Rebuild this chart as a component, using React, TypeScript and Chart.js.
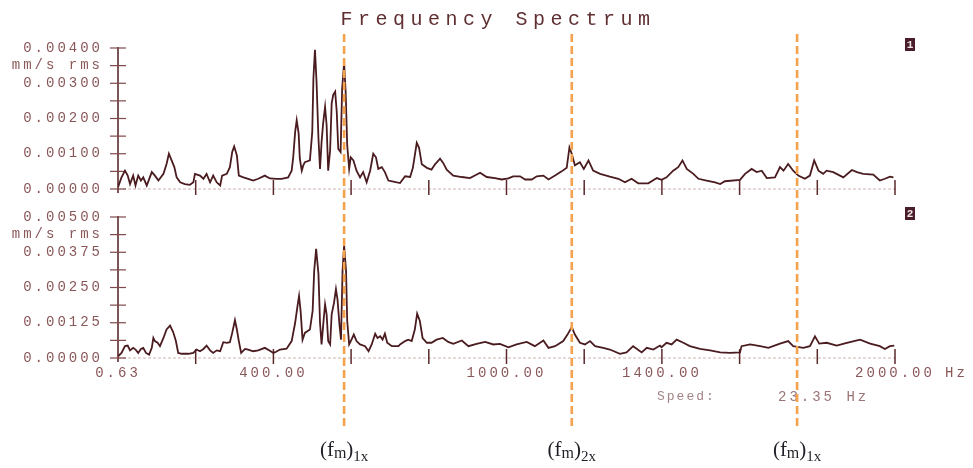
import React, { useEffect, useRef } from "react";
import { Chart, registerables } from "chart.js";

Chart.register(...registerables);

// ---------- data ----------
const titleText = "Frequency Spectrum";

// panel 1 spectrum: [frequency Hz, amplitude mm/s rms]
const spectrum1: [number, number][] = [
  [0, 0.00005], [9, 0.00033], [18, 0.00052], [25, 0.00038], [31, 0.00014], [39, 0.00038],
  [45, 0.0001], [52, 0.00038], [59, 0.00024], [65, 0.00033], [74, 0.0001], [87, 0.00048],
  [95, 0.00038], [104, 0.00024], [117, 0.00043], [125, 0.00071], [131, 0.001], [138, 0.00081],
  [145, 0.00062], [151, 0.00033], [160, 0.00019], [172, 0.00014], [185, 0.00012], [194, 0.00019],
  [198, 0.00043], [211, 0.00038], [220, 0.00029], [228, 0.00043], [237, 0.00019], [245, 0.00038],
  [254, 0.00019], [263, 0.0001], [268, 0.00038], [280, 0.00043], [288, 0.00062], [294, 0.00105],
  [299, 0.00121], [306, 0.00095], [311, 0.00038], [323, 0.00033], [335, 0.00029], [348, 0.00024],
  [361, 0.00029], [378, 0.00038], [391, 0.0003], [408, 0.00029], [421, 0.00029], [438, 0.00033],
  [447, 0.00052], [451, 0.0009], [456, 0.00162], [460, 0.00195], [465, 0.00157], [468, 0.00086],
  [473, 0.00052], [477, 0.00067], [481, 0.00076], [494, 0.00081], [500, 0.00162], [503, 0.00314],
  [507, 0.00395], [511, 0.00305], [516, 0.00143], [520, 0.00057], [524, 0.00133], [528, 0.00186],
  [533, 0.00233], [537, 0.00181], [541, 0.00052], [546, 0.0011], [550, 0.00243], [554, 0.00267],
  [559, 0.00276], [563, 0.00219], [567, 0.00114], [573, 0.00105], [577, 0.00286], [582, 0.00357],
  [586, 0.00276], [590, 0.00124], [595, 0.00057], [599, 0.0009], [606, 0.00081], [614, 0.00052],
  [623, 0.00033], [631, 0.00048], [640, 0.00019], [649, 0.00052], [657, 0.001], [664, 0.0009],
  [670, 0.00057], [679, 0.00062], [687, 0.00048], [696, 0.00024], [709, 0.00021], [726, 0.00017],
  [739, 0.00036], [752, 0.00034], [759, 0.0006], [769, 0.00131], [775, 0.00117], [782, 0.0007],
  [795, 0.0006], [807, 0.00055], [816, 0.0007], [829, 0.00086], [837, 0.00074], [846, 0.00055],
  [863, 0.00038], [885, 0.00034], [906, 0.00031], [932, 0.00046], [949, 0.00034], [970, 0.00031],
  [988, 0.00027], [1005, 0.0003], [1017, 0.00036], [1035, 0.00036], [1048, 0.00027], [1065, 0.00027],
  [1078, 0.00036], [1095, 0.00038], [1108, 0.00027], [1125, 0.00038], [1142, 0.0005], [1155, 0.0006],
  [1162, 0.00118], [1168, 0.001], [1176, 0.00067], [1189, 0.00076], [1199, 0.00057], [1211, 0.00081],
  [1223, 0.00052], [1241, 0.00043], [1266, 0.00035], [1288, 0.00029], [1305, 0.00019], [1322, 0.00029],
  [1339, 0.00016], [1365, 0.00016], [1387, 0.00031], [1399, 0.00026], [1412, 0.00033], [1429, 0.00052],
  [1442, 0.00062], [1453, 0.00081], [1464, 0.00057], [1481, 0.00043], [1494, 0.00029], [1515, 0.00024],
  [1537, 0.00019], [1550, 0.00014], [1562, 0.00022], [1601, 0.00026], [1614, 0.00043], [1631, 0.00057],
  [1644, 0.00048], [1657, 0.00052], [1670, 0.00031], [1691, 0.00033], [1704, 0.00062], [1713, 0.00052],
  [1725, 0.00071], [1738, 0.00052], [1751, 0.00038], [1768, 0.00029], [1781, 0.00038], [1792, 0.00081],
  [1803, 0.00052], [1815, 0.00043], [1824, 0.00052], [1841, 0.00048], [1867, 0.00033], [1889, 0.00054],
  [1902, 0.00048], [1918, 0.00043], [1944, 0.00041], [1961, 0.00024], [1974, 0.00029], [1987, 0.00035],
  [1996, 0.00033],
];

// panel 2 spectrum: [frequency Hz, amplitude mm/s rms]
const spectrum2: [number, number][] = [
  [0, 0.00006], [9, 0.00018], [18, 0.00042], [25, 0.00044], [31, 0.00027], [39, 0.00036],
  [45, 0.0003], [52, 0.00018], [59, 0.00032], [65, 0.00036], [72, 0.00018], [80, 0.00012],
  [87, 0.00036], [91, 0.00071], [95, 0.0006], [102, 0.00054], [108, 0.00042], [117, 0.00071],
  [125, 0.00101], [134, 0.00115], [142, 0.00092], [149, 0.0006], [155, 0.00018], [164, 0.00015],
  [181, 0.00015], [194, 0.00018], [202, 0.0003], [211, 0.00024], [220, 0.00032], [228, 0.00044],
  [237, 0.00027], [245, 0.00018], [254, 0.00027], [263, 0.00024], [271, 0.00056], [280, 0.00054],
  [288, 0.00056], [294, 0.00089], [301, 0.00134], [306, 0.00101], [311, 0.0006], [317, 0.00018],
  [327, 0.00032], [335, 0.0003], [348, 0.00024], [361, 0.00027], [378, 0.00036], [391, 0.00026],
  [400, 0.00018], [407, 0.00022], [417, 0.0003], [434, 0.00033], [447, 0.0006], [456, 0.00125],
  [462, 0.00184], [466, 0.0022], [470, 0.00167], [475, 0.00065], [481, 0.00089], [494, 0.00101],
  [501, 0.00167], [505, 0.00309], [510, 0.00387], [516, 0.00298], [520, 0.00125], [524, 0.00048],
  [529, 0.00131], [533, 0.0019], [537, 0.00155], [541, 0.0006], [546, 0.00048], [550, 0.00155],
  [556, 0.00196], [561, 0.00244], [565, 0.00208], [570, 0.00119], [574, 0.00065], [578, 0.00309],
  [582, 0.00399], [587, 0.00309], [590, 0.00131], [595, 0.00048], [601, 0.00065], [607, 0.00083],
  [614, 0.0006], [623, 0.00048], [636, 0.00042], [645, 0.00024], [653, 0.00048], [662, 0.00086],
  [668, 0.00071], [675, 0.00077], [681, 0.00065], [687, 0.00086], [693, 0.00054], [705, 0.00042],
  [722, 0.00042], [726, 0.00048], [739, 0.0006], [747, 0.00065], [756, 0.0006], [764, 0.00101],
  [770, 0.00157], [777, 0.00131], [784, 0.00071], [795, 0.00054], [807, 0.00054], [820, 0.00065],
  [836, 0.00071], [850, 0.00057], [863, 0.0005], [885, 0.00062], [902, 0.00042], [923, 0.0005],
  [945, 0.00057], [966, 0.00048], [983, 0.0005], [1005, 0.00038], [1026, 0.00048], [1052, 0.00057],
  [1073, 0.00042], [1095, 0.00062], [1108, 0.00036], [1125, 0.00042], [1146, 0.0006], [1157, 0.00083],
  [1168, 0.0011], [1176, 0.00083], [1189, 0.00054], [1202, 0.00048], [1215, 0.0006], [1228, 0.00042],
  [1249, 0.00036], [1266, 0.0003], [1292, 0.00015], [1309, 0.0002], [1326, 0.00042], [1348, 0.0002],
  [1361, 0.00036], [1378, 0.0003], [1395, 0.00044], [1399, 0.00038], [1412, 0.00054], [1425, 0.00048],
  [1438, 0.00065], [1455, 0.00054], [1472, 0.00042], [1498, 0.00032], [1524, 0.00027], [1550, 0.0002],
  [1575, 0.00018], [1601, 0.0002], [1605, 0.00042], [1627, 0.00048], [1653, 0.00042], [1674, 0.00036],
  [1704, 0.00051], [1725, 0.0006], [1738, 0.00042], [1764, 0.00036], [1781, 0.00042], [1794, 0.00077],
  [1805, 0.00051], [1824, 0.00054], [1850, 0.00044], [1876, 0.00054], [1910, 0.00065], [1936, 0.00051],
  [1961, 0.00042], [1974, 0.00032], [1987, 0.00042], [1998, 0.00044],
];

const xTickValues = [0, 200, 400, 600, 800, 1000, 1200, 1400, 1600, 1800, 2000];
const xTickLabels = ["0.63", "", "400.00", "", "", "1000.00", "", "1400.00", "", "", "2000.00"];
const xUnit = "Hz";

const yTicks1 = [0, 0.0005, 0.001, 0.0015, 0.002, 0.0025, 0.003, 0.0035, 0.004];
const yLabels1 = ["0.00000", "", "0.00100", "", "0.00200", "", "0.00300", "mm/s rms", "0.00400"];
const yTicks2 = [0, 0.000625, 0.00125, 0.001875, 0.0025, 0.003125, 0.00375, 0.004375, 0.005];
const yLabels2 = ["0.00000", "", "0.00125", "", "0.00250", "", "0.00375", "mm/s rms", "0.00500"];

const markerFreqs = [582, 1168, 1748];
const markerSubs = ["1x", "2x", "1x"];
const panelIds = ["1", "2"];
const speedLabel = "Speed:";
const speedValue = "23.35 Hz";

// ---------- styles ----------
const MONO = '"Liberation Mono", "DejaVu Sans Mono", monospace';
const SERIF = '"Liberation Serif", "DejaVu Serif", serif';
const INK = "#4a1b1f";
const AXIS = "#5b2a2c";
const TICK = "#80494b";
const LABEL = "#8a5759";
const BASE = "#d2b3b4";
const ORANGE = "#f4a24c";

function panelPlugin(id: string) {
  return {
    id: "panelDeco" + id,
    beforeDraw(chart: any) {
      chart.ctx.letterSpacing = "3px";
    },
    beforeDatasetsDraw(chart: any) {
      const { ctx, chartArea: a } = chart;
      const x = chart.scales.x;
      const y = chart.scales.y;
      ctx.save();
      ctx.letterSpacing = "0px";
      // dotted baseline
      ctx.strokeStyle = BASE;
      ctx.lineWidth = 1.2;
      ctx.setLineDash([3, 2]);
      ctx.beginPath();
      ctx.moveTo(a.left, a.bottom);
      ctx.lineTo(a.right + 2, a.bottom);
      ctx.stroke();
      ctx.setLineDash([]);
      // y axis line
      ctx.strokeStyle = AXIS;
      ctx.lineWidth = 1.6;
      ctx.beginPath();
      ctx.moveTo(a.left, a.top - 1);
      ctx.lineTo(a.left, a.bottom + 4);
      ctx.stroke();
      // y ticks across the axis
      ctx.strokeStyle = TICK;
      ctx.lineWidth = 1.2;
      y.ticks.forEach((t: any) => {
        const py = y.getPixelForValue(t.value);
        ctx.beginPath();
        ctx.moveTo(a.left - 8, py);
        ctx.lineTo(a.left + 8, py);
        ctx.stroke();
      });
      // x ticks crossing the baseline
      ctx.strokeStyle = AXIS;
      ctx.lineWidth = 1.5;
      x.ticks.forEach((t: any) => {
        if (t.value <= x.min) return;
        const px = x.getPixelForValue(t.value);
        ctx.beginPath();
        ctx.moveTo(px, a.bottom - 9);
        ctx.lineTo(px, a.bottom + 6);
        ctx.stroke();
      });
      ctx.restore();
    },
    afterDraw(chart: any) {
      const { ctx, chartArea: a } = chart;
      ctx.save();
      ctx.letterSpacing = "0px";
      const bx = a.right + 10;
      const by = a.top - 10;
      ctx.fillStyle = "#4a1d2a";
      ctx.fillRect(bx, by, 10, 13);
      ctx.fillStyle = "#f3e6e6";
      ctx.font = "bold 11px " + MONO;
      ctx.textAlign = "center";
      ctx.textBaseline = "middle";
      ctx.fillText(id, bx + 5, by + 7);
      ctx.restore();
    },
  };
}

const titlePlugin = {
  id: "titleDeco",
  afterDraw(chart: any) {
    const { ctx } = chart;
    ctx.save();
    ctx.letterSpacing = "5.5px";
    ctx.font = "20px " + MONO;
    ctx.fillStyle = "#5f2f32";
    ctx.textAlign = "center";
    ctx.textBaseline = "middle";
    ctx.fillText(titleText, 498, 20);
    ctx.restore();
  },
};

const overlayPlugin = {
  id: "overlayDeco",
  afterDraw(chart: any) {
    const { ctx, chartArea: a } = chart;
    const x = chart.scales.x;
    ctx.save();
    // "Hz" unit after last tick label
    ctx.letterSpacing = "3px";
    ctx.font = "14px " + MONO;
    ctx.fillStyle = LABEL;
    ctx.textAlign = "left";
    ctx.textBaseline = "middle";
    ctx.fillText(xUnit, x.getPixelForValue(2000) + 50, a.bottom + 15);
    // speed
    ctx.letterSpacing = "2px";
    ctx.font = "13px " + MONO;
    ctx.fillStyle = "#a08486";
    ctx.fillText(speedLabel, 657, 397);
    ctx.letterSpacing = "3px";
    ctx.font = "14px " + MONO;
    ctx.fillStyle = "#9a7476";
    ctx.fillText(speedValue, 778, 397);
    ctx.letterSpacing = "0px";
    // dashed marker lines
    ctx.strokeStyle = ORANGE;
    ctx.lineWidth = 2.6;
    ctx.setLineDash([8, 4]);
    markerFreqs.forEach((f) => {
      const px = x.getPixelForValue(f);
      ctx.beginPath();
      ctx.moveTo(px, 34);
      ctx.lineTo(px, 430);
      ctx.stroke();
    });
    ctx.setLineDash([]);
    // labels under markers: (f_m)_{nx}
    ctx.fillStyle = "#1f1f28";
    ctx.textBaseline = "alphabetic";
    ctx.textAlign = "left";
    markerFreqs.forEach((f, i) => {
      const px = x.getPixelForValue(f);
      const parts = [
        { t: "(f", s: 21, dy: 0 },
        { t: "m", s: 16, dy: 2 },
        { t: ")", s: 21, dy: 0 },
        { t: markerSubs[i], s: 15, dy: 5 },
      ];
      let total = 0;
      parts.forEach((p) => {
        ctx.font = p.s + "px " + SERIF;
        total += ctx.measureText(p.t).width;
      });
      let cx = px - total / 2;
      parts.forEach((p) => {
        ctx.font = p.s + "px " + SERIF;
        ctx.fillText(p.t, cx, 456 + p.dy);
        cx += ctx.measureText(p.t).width;
      });
    });
    ctx.restore();
  },
};

function makeConfig(
  spectrum: [number, number][],
  yMax: number,
  yTicks: number[],
  yLabels: string[],
  padTop: number,
  padBottom: number,
  showX: boolean,
  extraPlugins: any[],
  id: string
): any {
  return {
    type: "line",
    data: {
      datasets: [
        {
          data: spectrum.map(([f, v]) => ({ x: f, y: v })),
          borderColor: INK,
          borderWidth: 1.8,
          pointRadius: 0,
          tension: 0,
          fill: false,
        },
      ],
    },
    options: {
      animation: false,
      responsive: false,
      devicePixelRatio: 1,
      layout: { padding: { left: 0, right: 78, top: padTop, bottom: padBottom } },
      plugins: { legend: { display: false }, tooltip: { enabled: false }, title: { display: false } },
      scales: {
        x: {
          type: "linear",
          min: 0,
          max: 2000,
          afterBuildTicks: (s: any) => {
            s.ticks = xTickValues.map((v) => ({ value: v }));
          },
          afterFit: (s: any) => {
            s.height = showX ? 30 : 0;
          },
          grid: { display: false, drawTicks: false },
          border: { display: false },
          ticks: {
            display: showX,
            autoSkip: false,
            maxRotation: 0,
            padding: 7,
            color: LABEL,
            font: { family: MONO, size: 14 },
            callback: (_v: any, i: number) => xTickLabels[i],
          },
        },
        y: {
          type: "linear",
          min: 0,
          max: yMax,
          afterBuildTicks: (s: any) => {
            s.ticks = yTicks.map((v) => ({ value: v }));
          },
          afterFit: (s: any) => {
            s.width = 118;
          },
          grid: { display: false, drawTicks: false },
          border: { display: false },
          ticks: {
            autoSkip: false,
            padding: 15,
            color: LABEL,
            font: { family: MONO, size: 14 },
            callback: (_v: any, i: number) => yLabels[i],
          },
        },
      },
    },
    plugins: [panelPlugin(id), ...extraPlugins],
  };
}

export default function App() {
  const ref1 = useRef<HTMLCanvasElement>(null);
  const ref2 = useRef<HTMLCanvasElement>(null);

  useEffect(() => {
    const c1 = new Chart(
      ref1.current as HTMLCanvasElement,
      makeConfig(spectrum1, 0.004, yTicks1, yLabels1, 48, 279, false, [titlePlugin], panelIds[0])
    );
    const c2 = new Chart(
      ref2.current as HTMLCanvasElement,
      makeConfig(spectrum2, 0.005, yTicks2, yLabels2, 217, 80, true, [overlayPlugin], panelIds[1])
    );
    return () => {
      c1.destroy();
      c2.destroy();
    };
  }, []);

  const cs: React.CSSProperties = { position: "absolute", left: 0, top: 0, width: 973, height: 468 };
  return (
    <div style={{ position: "absolute", left: 0, top: 0, width: 973, height: 468, background: "#fff" }}>
      <canvas ref={ref1} width={973} height={468} style={cs} />
      <canvas ref={ref2} width={973} height={468} style={cs} />
    </div>
  );
}
